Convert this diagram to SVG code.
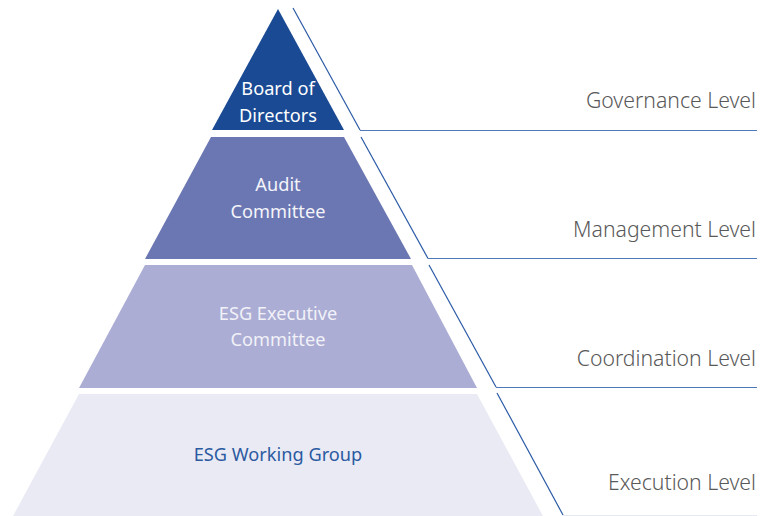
<svg xmlns="http://www.w3.org/2000/svg" width="761" height="516" viewBox="0 0 761 516">
  <style>
    .lbl { font-family: "Noto Sans", "Open Sans", sans-serif; font-size: 21.2px; font-weight: 300; fill: #595959; text-anchor: end; }
    .nt { font-family: "Noto Sans", "Open Sans", sans-serif; font-size: 18.2px; text-anchor: middle; }
    .diag { stroke: #2a5aa6; stroke-width: 1.2; fill: none; }
    .hl { stroke: #4f78b8; stroke-width: 1.2; fill: none; }
  </style>
  <rect width="761" height="516" fill="#ffffff"/>
  <g id="connectors">
    <polyline class="diag" points="293,8 360,130"/>
    <line class="hl" x1="360" y1="130.5" x2="757" y2="130.5"/>
    <polyline class="diag" points="361,137 428,258.5"/>
    <line class="hl" x1="428" y1="258.5" x2="757" y2="258.5"/>
    <polyline class="diag" points="429,265 496,387"/>
    <line class="hl" x1="496" y1="387.5" x2="757" y2="387.5"/>
    <polyline class="diag" points="497,393 563,515"/>
    <line x1="563" y1="515.5" x2="757" y2="515.5" stroke="#e6e9f2" stroke-width="1"/>
  </g>
  <g id="tier-board">
    <polygon points="278,9 344,130 212,130" fill="#1a4a94"/>
    <text class="nt" x="278" y="95" fill="#ffffff">Board of</text>
    <text class="nt" x="278" y="122" fill="#ffffff">Directors</text>
  </g>
  <g id="tier-audit">
    <polygon points="211,137 344,137 411,259 145,259" fill="#6b77b3"/>
    <text class="nt" x="278" y="191" fill="#f4f4fa">Audit</text>
    <text class="nt" x="278" y="218" fill="#f4f4fa">Committee</text>
  </g>
  <g id="tier-esg-exec">
    <polygon points="145,265 412,265 477,388 79,388" fill="#abadd4"/>
    <text class="nt" x="278" y="320" fill="#f1f1f8">ESG Executive</text>
    <text class="nt" x="278" y="346" fill="#f1f1f8">Committee</text>
  </g>
  <g id="tier-esg-working">
    <polygon points="79,394 477,394 543,516 13,516" fill="#eaeaf5"/>
    <text class="nt" x="278" y="461" fill="#2a5aa0">ESG Working Group</text>
  </g>
  <g id="levels">
    <text class="lbl" x="756" y="108">Governance Level</text>
    <text class="lbl" x="756" y="237">Management Level</text>
    <text class="lbl" x="756" y="366">Coordination Level</text>
    <text class="lbl" x="756" y="490">Execution Level</text>
  </g>
</svg>
